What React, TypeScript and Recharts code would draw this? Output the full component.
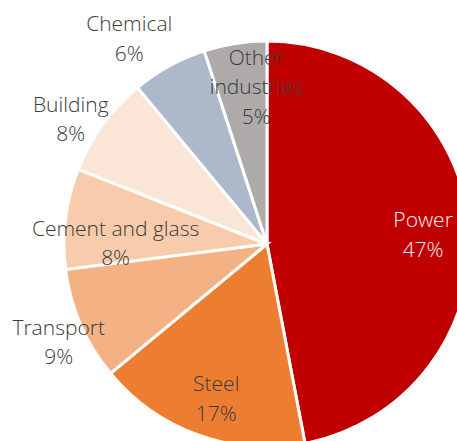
import { PieChart, Pie, Cell } from "recharts";

const sectors = ["Power", "Steel", "Transport", "Cement and glass", "Building", "Chemical", "Other industries"];
const shares = [47, 17, 9, 8, 8, 6, 5];
const labelLines = [["Power"], ["Steel"], ["Transport"], ["Cement and glass"], ["Building"], ["Chemical"], ["Other", "industries"]];

const colors = ["#c00000", "#ed7d31", "#f4b183", "#f8cbad", "#fbe5d6", "#adb9ca", "#aeaaaa"];
const labelColors = ["#f2f2f2", "#3a3a3a", "#3a3a3a", "#3a3a3a", "#3a3a3a", "#3a3a3a", "#3a3a3a"];
// label nudge from the slice's outer arc midpoint, px
const labelShift = [
  [-46, 9],
  [18, -37],
  [-22, 17],
  [50, 24],
  [-32, -6],
  [-40, -28],
  [21, 43],
];

const data = sectors.map((name, i) => ({ name, value: shares[i] }));

const RAD = Math.PI / 180;
const LINE = 29.5;

function renderLabel(props: any) {
  const { cx, cy, midAngle, outerRadius, index } = props;
  const x = cx + outerRadius * Math.cos(-midAngle * RAD) + labelShift[index][0];
  const y = cy + outerRadius * Math.sin(-midAngle * RAD) + labelShift[index][1];
  const lines = [...labelLines[index], `${shares[index]}%`];
  const y0 = y - ((lines.length - 1) * LINE) / 2;
  return (
    <text
      key={`lbl-${index}`}
      x={x}
      y={y0}
      textAnchor="middle"
      dominantBaseline="central"
      fill={labelColors[index]}
      style={{ fontFamily: "'Open Sans', sans-serif", fontWeight: 300, fontSize: 21 }}
    >
      {lines.map((l, j) => (
        <tspan key={j} x={x} y={y0 + j * LINE}>
          {l}
        </tspan>
      ))}
    </text>
  );
}

export default function App() {
  return (
    <div style={{ position: "absolute", left: 0, top: 0, width: 457, height: 441, background: "#fff" }}>
      <PieChart width={457} height={441} margin={{ top: 0, right: 0, bottom: 0, left: 0 }}>
        <Pie
          data={data}
          dataKey="value"
          nameKey="name"
          cx={267}
          cy={244}
          outerRadius={203}
          startAngle={90}
          endAngle={-270}
          stroke="#ffffff"
          strokeWidth={3}
          label={renderLabel}
          labelLine={false}
          isAnimationActive={false}
        >
          {data.map((d, i) => (
            <Cell key={d.name} fill={colors[i]} />
          ))}
        </Pie>
      </PieChart>
    </div>
  );
}
